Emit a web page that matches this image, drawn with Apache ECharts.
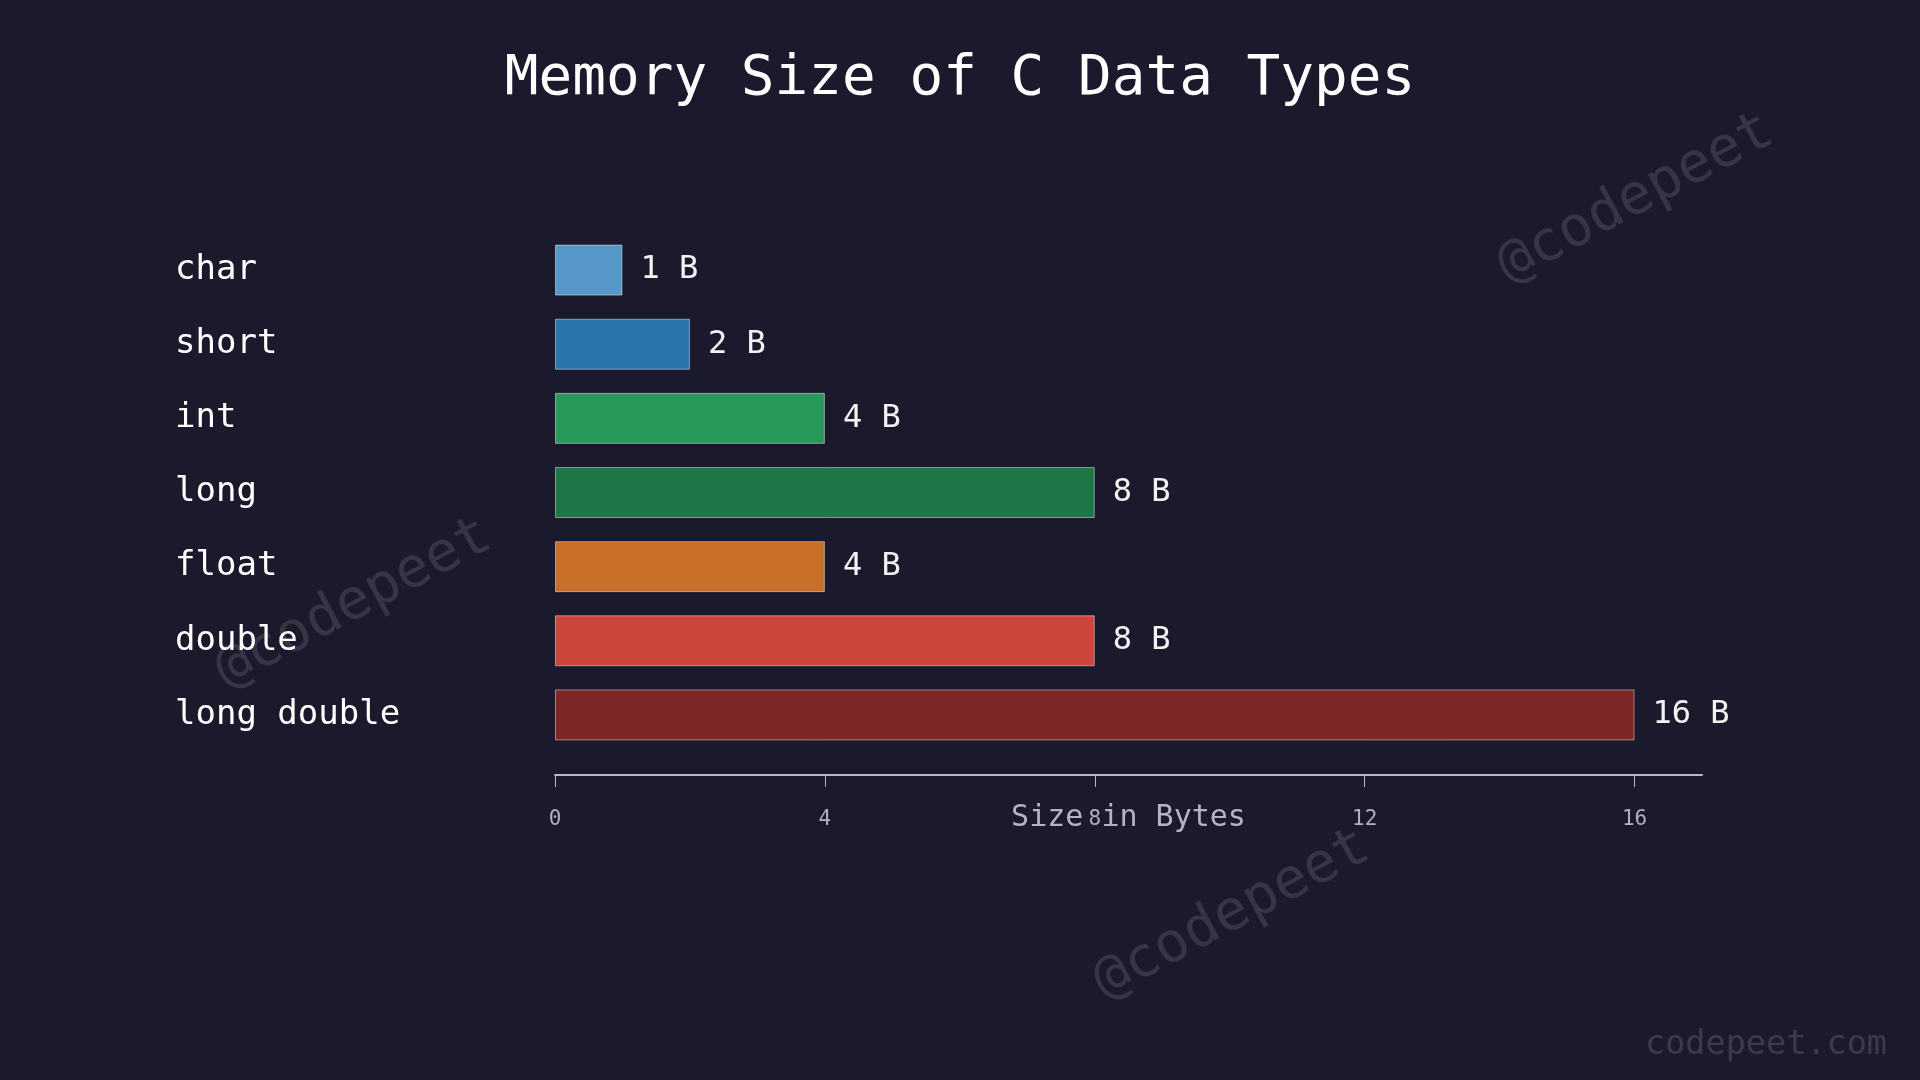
<!DOCTYPE html>
<html>
<head>
<meta charset="utf-8">
<title>Memory Size of C Data Types</title>
<script src="https://cdn.jsdelivr.net/npm/echarts@6/dist/echarts.min.js"></script>
<style>
  html, body { margin: 0; padding: 0; background: #1b1a2d; }
  #chart { width: 1920px; height: 1080px; }
</style>
</head>
<body>
<div id="chart"></div>
<script>
// 数据
var typeNames = ['char', 'short', 'int', 'long', 'float', 'double', 'long double'];
var typeSizes = [1, 2, 4, 8, 4, 8, 16];
var tickValues = [0, 4, 8, 12, 16];
var barColors = ['#5597c9', '#2a75ad', '#27995a', '#1f7748', '#c76f26', '#cb463c', '#7d2626'];

var monoFont = '"DejaVu Sans Mono", "Liberation Mono", monospace';

function watermark(x, y) {
    return {
        type: 'text',
        x: x,
        y: y,
        rotation: 28 * Math.PI / 180,
        silent: true,
        style: {
            text: '@codepeet',
            fontFamily: monoFont,
            fontSize: 56,
            fill: 'rgba(255,255,255,0.12)',
            align: 'center',
            verticalAlign: 'middle'
        }
    };
}

var myChart = echarts.init(document.getElementById('chart'));

var barData = typeSizes.map(function (v, i) {
    return {
        value: v,
        itemStyle: { color: barColors[i] }
    };
});

var option = {
    backgroundColor: '#1b1a2d',
    animation: false,
    title: {
        text: 'Memory Size of C Data Types',
        left: 'center',
        top: 46,
        textStyle: {
            color: '#ffffff',
            fontFamily: monoFont,
            fontSize: 56,
            fontWeight: 'normal'
        }
    },
    grid: {
        left: 555,
        right: 218,
        top: 233,
        bottom: 328
    },
    xAxis: {
        type: 'value',
        min: 0,
        max: 17,
        interval: 4,
        offset: 23,
        name: 'Size in Bytes',
        nameLocation: 'middle',
        nameGap: 28,
        nameMoveOverlap: false,
        nameTextStyle: {
            color: '#b4b4bc',
            fontFamily: monoFont,
            fontSize: 30
        },
        axisLine: { show: true, lineStyle: { color: '#b8b8c0', width: 2 } },
        axisTick: {
            show: true,
            length: 12,
            customValues: tickValues,
            lineStyle: { color: '#b8b8c0', width: 1 }
        },
        axisLabel: {
            customValues: tickValues,
            margin: 34,
            color: '#b0b0b8',
            fontFamily: monoFont,
            fontSize: 21
        },
        splitLine: { show: false }
    },
    yAxis: {
        type: 'category',
        inverse: true,
        data: typeNames,
        axisLine: { show: false },
        axisTick: { show: false },
        axisLabel: {
            align: 'left',
            margin: 380,
            lineHeight: 48,
            padding: [14, 0, 0, 0],
            color: '#ffffff',
            fontFamily: monoFont,
            fontSize: 34
        }
    },
    series: [
        {
            type: 'bar',
            data: barData,
            barWidth: 51,
            itemStyle: {
                borderColor: 'rgba(255,255,255,0.45)',
                borderWidth: 1
            },
            label: {
                show: true,
                position: 'right',
                distance: 18,
                formatter: '{c} B',
                color: '#f2f2f2',
                fontFamily: monoFont,
                fontSize: 32,
                lineHeight: 44,
                padding: [12, 0, 0, 0]
            }
        }
    ],
    graphic: [
        watermark(1636, 199),
        watermark(354, 604),
        watermark(1232, 915),
        {
            type: 'text',
            right: 33,
            bottom: 18,
            silent: true,
            style: {
                text: 'codepeet.com',
                fontFamily: monoFont,
                fontSize: 33.5,
                fill: 'rgba(255,255,255,0.14)'
            }
        }
    ]
};

myChart.setOption(option);
</script>
</body>
</html>
